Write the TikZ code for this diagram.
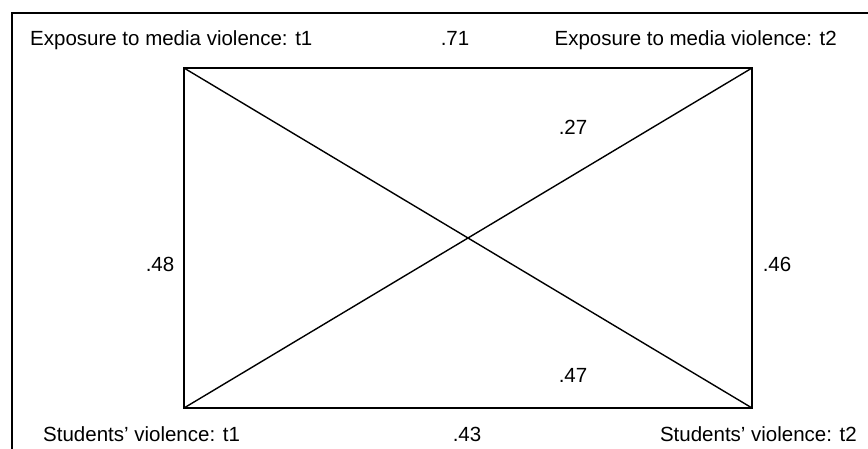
\documentclass[tikz,border=0pt]{standalone}
\usepackage{fontspec}
\setmainfont{Liberation Sans}
\usepackage{tikz}

\begin{document}
\begin{tikzpicture}[x=1pt,y=-1pt,font=\fontsize{20.5}{24}\selectfont,
  varlabel/.style={inner sep=0pt,anchor=base},
  coef/.style={inner sep=0pt,anchor=base},
  path/.style={line width=1.4pt,line cap=round}]
\useasboundingbox (0,0) rectangle (868,449);
% outer frame (cut off at right and bottom)
\draw[line width=1.2pt] (12,449) -- (12,13) -- (868,13);
% corners of the panel
\coordinate (e1) at (184,68);
\coordinate (e2) at (752,68);
\coordinate (s1) at (184,408);
\coordinate (s2) at (752,408);
\draw[path] (e1) -- (e2) -- (s2) -- (s1) -- cycle;
\draw[path] (e1) -- (s2);
\draw[path] (s1) -- (e2);
% variable labels
\node[varlabel,anchor=base west] (le1) at (30,46) {Exposure to media violence: t1};
\node[varlabel,anchor=base east] (le2) at (837,46) {Exposure to media violence: t2};
\node[varlabel,anchor=base west] (ls1) at (43,441) {Students' violence: t1};
\node[varlabel,anchor=base east] (ls2) at (857,441) {Students' violence: t2};
% coefficients
\node[coef] (c71) at (455,46) {.71};
\node[coef] (c27) at (573,135) {.27};
\node[coef] (c48) at (160,272) {.48};
\node[coef] (c46) at (777,272) {.46};
\node[coef] (c47) at (573,382) {.47};
\node[coef] (c43) at (467,441) {.43};
\end{tikzpicture}
\end{document}
